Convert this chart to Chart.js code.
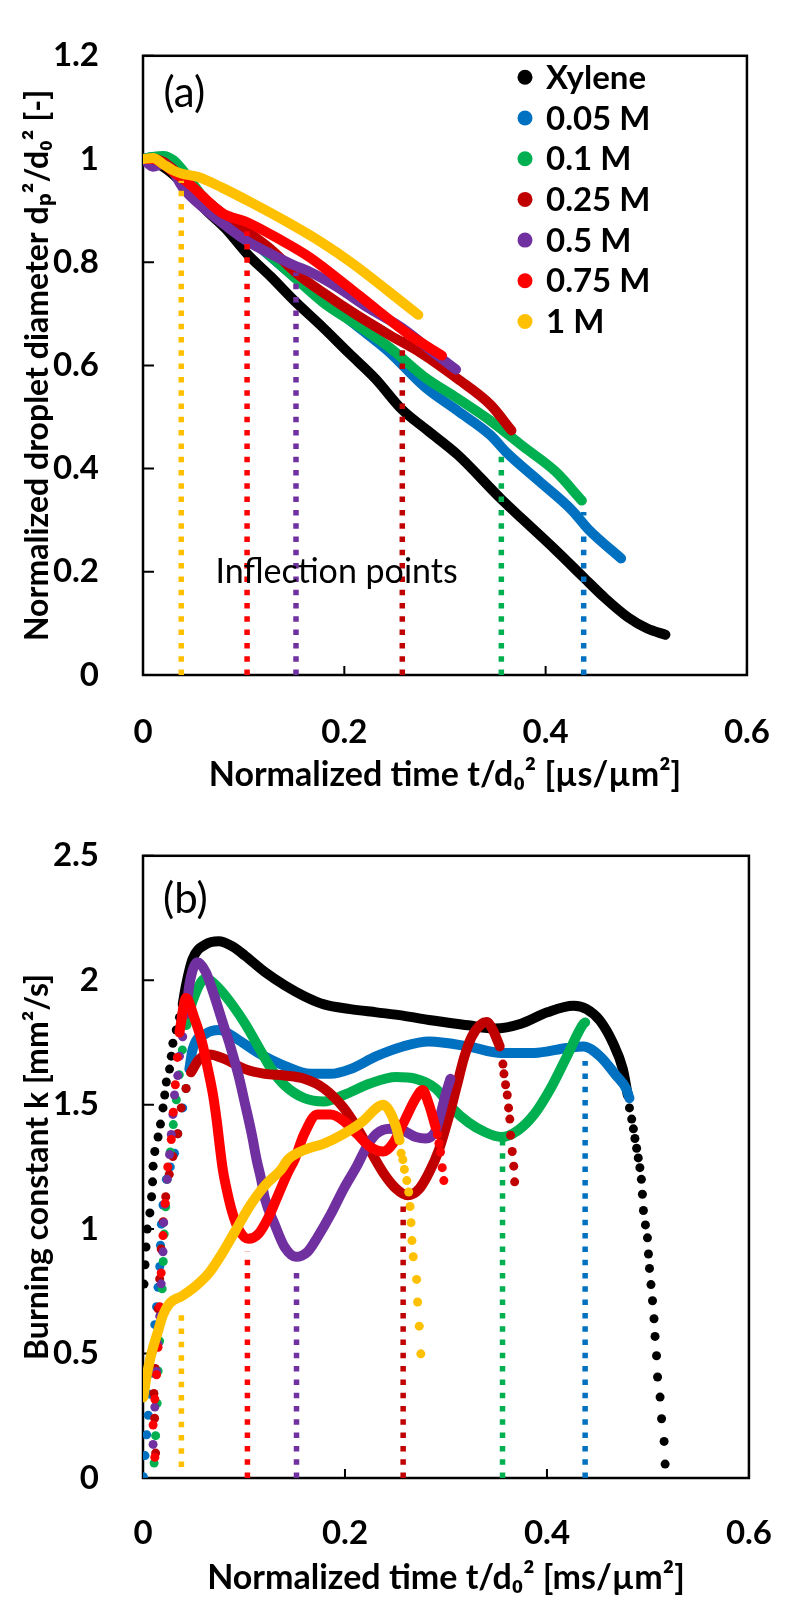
<!DOCTYPE html>
<html>
<head>
<meta charset="utf-8">
<script src="https://cdn.jsdelivr.net/npm/chart.js@4.4.1/dist/chart.umd.min.js"></script>
<style>
  body { margin: 0; background: #fff; }
  canvas { display: block; }
</style>
</head>
<body>
<canvas id="chartA" width="800" height="800"></canvas>
<canvas id="chartB" width="800" height="816"></canvas>
<script>
// series names + colours (Excel standard palette)
const seriesNames = ['Xylene', '0.05 M', '0.1 M', '0.25 M', '0.5 M', '0.75 M', '1 M'];
const seriesColors = ['#000000', '#0070C0', '#00B050', '#C00000', '#7030A0', '#FF0000', '#FFC000'];

// x of the inflection points (same for both panels), order: 1M, 0.75M, 0.5M, 0.25M, 0.1M, 0.05M
const inflX = [0.038, 0.1034, 0.152, 0.2576, 0.356, 0.4378];
const inflColors = ['#FFC000', '#FF0000', '#7030A0', '#C00000', '#00B050', '#0070C0'];
const inflTopA = [0.958, 0.86, 0.78, 0.655, 0.437, 0.316];
const inflBottomB = [0.044, 0, 0, 0, 0, 0];
const inflTopB = [0.668, 0.909, 0.85, 1.097, 1.364, 1.676];

// ---- panel (a): normalized droplet diameter ----
const xyleneA = [[0,1.0],[0.01,0.995],[0.02,0.985],[0.03,0.97],[0.038,0.955],[0.062,0.902],[0.082,0.865],[0.104,0.815],[0.127,0.772],[0.15,0.726],[0.179,0.673],[0.205,0.623],[0.231,0.574],[0.257,0.515],[0.282,0.475],[0.3125,0.427],[0.3558,0.341],[0.3776,0.301],[0.41,0.242],[0.4378,0.189],[0.459,0.149],[0.4817,0.112],[0.501,0.09],[0.519,0.078]];
const m005A = [[0,1.0],[0.01,1.004],[0.02,1.004],[0.03,0.995],[0.04,0.975],[0.06,0.922],[0.08,0.886],[0.1,0.853],[0.12,0.822],[0.15,0.772],[0.18,0.726],[0.212,0.677],[0.244,0.627],[0.28,0.558],[0.3125,0.512],[0.345,0.465],[0.3613,0.431],[0.394,0.375],[0.4263,0.319],[0.4426,0.282],[0.475,0.226]];
const m01A = [[0,1.0],[0.01,1.004],[0.02,1.006],[0.03,0.998],[0.04,0.977],[0.06,0.926],[0.08,0.89],[0.1,0.857],[0.114,0.834],[0.153,0.766],[0.179,0.722],[0.212,0.679],[0.244,0.636],[0.28,0.577],[0.3125,0.536],[0.345,0.493],[0.3776,0.443],[0.41,0.394],[0.436,0.338]];
const m025A = [[0,1.0],[0.01,1.0],[0.02,0.995],[0.03,0.98],[0.04,0.96],[0.06,0.925],[0.08,0.893],[0.104,0.859],[0.127,0.825],[0.153,0.778],[0.179,0.741],[0.212,0.698],[0.244,0.66],[0.277,0.623],[0.3125,0.574],[0.345,0.524],[0.366,0.474]];
const m05A = [[0,1.0],[0.01,0.985],[0.02,0.99],[0.03,0.975],[0.039,0.946],[0.062,0.902],[0.082,0.871],[0.104,0.84],[0.127,0.816],[0.15,0.794],[0.166,0.781],[0.192,0.753],[0.225,0.71],[0.257,0.673],[0.29,0.623],[0.311,0.592]];
const m075A = [[0,1.0],[0.01,1.0],[0.02,0.99],[0.03,0.975],[0.046,0.952],[0.078,0.896],[0.104,0.877],[0.134,0.846],[0.166,0.809],[0.199,0.76],[0.231,0.71],[0.264,0.66],[0.297,0.619]];
const m1A = [[0,1.0],[0.01,1.002],[0.02,0.99],[0.03,0.978],[0.038,0.972],[0.055,0.965],[0.078,0.945],[0.111,0.912],[0.143,0.878],[0.176,0.84],[0.2085,0.797],[0.241,0.748],[0.2735,0.698]];

// ---- panel (b): burning constant k ----
// each series: sparse rise dots, dense curve, sparse fall dots
const xyleneRise = [[0.001,0.779],[0.002,0.857],[0.003,0.928],[0.0042,1.0],[0.0068,1.065],[0.0085,1.13],[0.0095,1.19],[0.01,1.253],[0.0117,1.312],[0.0149,1.37],[0.0173,1.422],[0.0198,1.487],[0.0215,1.539],[0.0231,1.591],[0.0263,1.643],[0.028,1.695],[0.0296,1.747],[0.0329,1.8],[0.0361,1.851]];
const xyleneK = [[0.0393,1.903],[0.0426,1.98],[0.0491,2.085],[0.0621,2.144],[0.0751,2.157],[0.0881,2.137],[0.1012,2.098],[0.1207,2.033],[0.1402,1.98],[0.1597,1.936],[0.1792,1.903],[0.2052,1.884],[0.2312,1.871],[0.2573,1.858],[0.2832,1.84],[0.3222,1.819],[0.3483,1.806],[0.3743,1.825],[0.4003,1.871],[0.4263,1.897],[0.4393,1.884],[0.4524,1.838],[0.4654,1.747],[0.4751,1.643],[0.48,1.539]];
const xyleneFall = [[0.4817,1.487],[0.4839,1.442],[0.4856,1.403],[0.4871,1.364],[0.4888,1.325],[0.4904,1.286],[0.492,1.247],[0.4935,1.2],[0.4945,1.14],[0.4955,1.075],[0.4975,1.017],[0.4995,0.965],[0.5005,0.9],[0.5015,0.842],[0.503,0.777],[0.5045,0.712],[0.506,0.64],[0.507,0.569],[0.5085,0.491],[0.5095,0.406],[0.512,0.325],[0.5135,0.238],[0.516,0.147],[0.517,0.056]];

const m005Rise = [[0.0003,0.005],[0.002,0.09],[0.0036,0.174],[0.0052,0.252],[0.0068,0.337],[0.0085,0.421],[0.01,0.512],[0.0117,0.616],[0.0134,0.688],[0.0149,0.766],[0.0166,0.85],[0.0173,0.935],[0.0182,1.02],[0.0198,1.097],[0.0231,1.2],[0.027,1.25],[0.0312,1.305],[0.0344,1.383],[0.0393,1.487],[0.0426,1.565]];
const m005K = [[0.0459,1.643],[0.0491,1.721],[0.0621,1.785],[0.0751,1.8],[0.0946,1.76],[0.1141,1.708],[0.1402,1.656],[0.1661,1.624],[0.1857,1.624],[0.2052,1.643],[0.2312,1.695],[0.2573,1.734],[0.2832,1.754],[0.3222,1.734],[0.3548,1.708],[0.3873,1.708],[0.4198,1.728],[0.4361,1.734],[0.4524,1.695],[0.4686,1.617],[0.4783,1.565],[0.4817,1.526]];

const m01Rise = [[0.011,0.06],[0.0125,0.17],[0.014,0.3],[0.015,0.43],[0.0165,0.55],[0.018,0.66],[0.019,0.76],[0.02,0.87],[0.021,0.98],[0.0225,1.09],[0.024,1.2],[0.027,1.31],[0.03,1.42],[0.033,1.52],[0.036,1.62],[0.039,1.72]];
const m01K = [[0.043,1.82],[0.0491,1.916],[0.0621,2.007],[0.0751,1.968],[0.0881,1.903],[0.1012,1.825],[0.1141,1.734],[0.1271,1.643],[0.1402,1.578],[0.1597,1.526],[0.1792,1.513],[0.1987,1.539],[0.2247,1.585],[0.2507,1.611],[0.2702,1.604],[0.2898,1.565],[0.306,1.487],[0.3222,1.429],[0.3385,1.39],[0.3548,1.37],[0.371,1.396],[0.3873,1.461],[0.4036,1.565],[0.4198,1.695],[0.4361,1.825],[0.4378,1.83]];

const m025Rise = [[0.0125,0.1],[0.0115,0.24],[0.0108,0.34],[0.012,0.44],[0.0135,0.56],[0.015,0.68],[0.0165,0.8],[0.018,0.92],[0.02,1.03],[0.0225,1.13],[0.026,1.22],[0.0296,1.292],[0.0344,1.383],[0.0378,1.487],[0.0426,1.565]];
const m025K = [[0.0475,1.63],[0.0556,1.682],[0.0654,1.702],[0.0817,1.682],[0.1012,1.643],[0.1207,1.624],[0.1402,1.617],[0.1597,1.604],[0.1792,1.565],[0.1987,1.487],[0.2117,1.409],[0.2247,1.318],[0.2378,1.227],[0.2507,1.162],[0.2621,1.136],[0.2735,1.162],[0.2832,1.227],[0.293,1.318],[0.3027,1.45],[0.311,1.58],[0.318,1.69],[0.3255,1.773],[0.3353,1.825],[0.3402,1.832],[0.3466,1.799],[0.3532,1.734]];
const m025Fall = [[0.3564,1.663],[0.3574,1.624],[0.359,1.58],[0.3607,1.539],[0.362,1.487],[0.3632,1.442],[0.364,1.377],[0.3656,1.312],[0.3671,1.253],[0.368,1.19]];

const m05Rise = [[0.01,0.135],[0.0117,0.285],[0.0134,0.428],[0.0149,0.538],[0.0166,0.65],[0.018,0.78],[0.0198,0.909],[0.0205,1.026],[0.0215,1.1],[0.024,1.2],[0.0263,1.3],[0.028,1.38],[0.0296,1.461],[0.0312,1.539],[0.0344,1.617],[0.0361,1.695],[0.0393,1.773]];
const m05K = [[0.0426,1.864],[0.0459,1.981],[0.054,2.072],[0.0621,2.033],[0.0702,1.942],[0.0783,1.838],[0.0865,1.734],[0.0946,1.617],[0.1012,1.5],[0.1076,1.383],[0.1125,1.279],[0.117,1.2],[0.1207,1.123],[0.1304,1.019],[0.1402,0.928],[0.1515,0.889],[0.1629,0.909],[0.1727,0.967],[0.1857,1.058],[0.1987,1.162],[0.2117,1.253],[0.2215,1.331],[0.2312,1.383],[0.2442,1.403],[0.2573,1.396],[0.2702,1.37],[0.28,1.364],[0.2898,1.396],[0.2946,1.461],[0.2995,1.539],[0.3044,1.604]];

const m075Rise = [[0.0117,0.083],[0.01,0.213],[0.0117,0.317],[0.0134,0.415],[0.0149,0.525],[0.0158,0.61],[0.0166,0.688],[0.018,0.824],[0.0198,0.974],[0.022,1.104],[0.0245,1.25],[0.028,1.36],[0.03,1.47],[0.032,1.58],[0.034,1.69]];
const m075K = [[0.0361,1.79],[0.0426,1.929],[0.0507,1.85],[0.0585,1.75],[0.0644,1.64],[0.0693,1.54],[0.0732,1.43],[0.0761,1.33],[0.079,1.24],[0.082,1.175],[0.0881,1.071],[0.0946,1.0],[0.1044,0.961],[0.1141,0.98],[0.1239,1.045],[0.1337,1.136],[0.1434,1.227],[0.15,1.279],[0.1597,1.383],[0.1727,1.461],[0.1857,1.461],[0.1987,1.435],[0.2117,1.383],[0.2247,1.331],[0.2378,1.312],[0.2475,1.344],[0.2573,1.422],[0.2702,1.526],[0.2768,1.559],[0.2832,1.5],[0.2898,1.409]];
const m075Fall = [[0.2914,1.38],[0.293,1.344],[0.2946,1.31],[0.2963,1.247],[0.2979,1.195]];

const m1K = [[0.0003,0.324],[0.002,0.369],[0.0036,0.41],[0.0068,0.473],[0.01,0.525],[0.0149,0.59],[0.0198,0.655],[0.0263,0.701],[0.0393,0.733],[0.0524,0.772],[0.0654,0.824],[0.0783,0.902],[0.0914,0.993],[0.1044,1.084],[0.1207,1.175],[0.1369,1.24],[0.1434,1.279],[0.1597,1.318],[0.1792,1.344],[0.1987,1.383],[0.2182,1.435],[0.2312,1.487],[0.2378,1.5],[0.2442,1.474],[0.2507,1.409],[0.254,1.357]];
const m1Fall = [[0.2556,1.305],[0.2573,1.279],[0.2588,1.24],[0.2612,1.195],[0.2631,1.149],[0.2644,1.091],[0.2654,1.026],[0.2663,0.954],[0.2676,0.889],[0.2709,0.798],[0.2719,0.707],[0.2735,0.61],[0.2751,0.499]];

const FONT = 'Lato, "Open Sans", sans-serif';
Chart.defaults.font.family = FONT;
Chart.defaults.color = '#000';

const pts = arr => arr.map(([x, y]) => ({ x, y }));

// dense part of a series: thick line through the read points
function curve(arr, color, order) {
    return {
        data: pts(arr), showLine: true, order: order,
        borderColor: color, backgroundColor: color, borderWidth: 10,
        borderCapStyle: 'round', borderJoinStyle: 'round',
        cubicInterpolationMode: 'monotone', pointRadius: 0
    };
}

// sparse part: separate dots
function dots(arr, color, order) {
    return {
        data: pts(arr), showLine: false, order: order,
        backgroundColor: color, borderColor: color,
        pointRadius: 4.5, pointBorderWidth: 0
    };
}

// dotted vertical line at an inflection point
function marker(x, y0, y1, color) {
    return {
        data: [{ x: x, y: y0 }, { x: x, y: y1 }], showLine: true, order: 0,
        borderColor: color, borderWidth: 5.5, borderDash: [5.5, 7.8], borderCapStyle: 'butt',
        pointRadius: 0
    };
}

// black frame + inward tick marks
const framePlugin = {
    id: 'frame',
    beforeDatasetsDraw(chart) {
        const { ctx, chartArea: a } = chart;
        const xs = chart.scales.x, ys = chart.scales.y;
        ctx.save();
        ctx.strokeStyle = '#000';
        ctx.lineWidth = 2.5;
        ctx.strokeRect(a.left, a.top, a.right - a.left, a.bottom - a.top);
        ctx.beginPath();
        ctx.lineWidth = 2;
        xs.ticks.forEach(t => {
            const px = xs.getPixelForValue(t.value);
            ctx.moveTo(px, a.bottom);
            ctx.lineTo(px, a.bottom - 9);
        });
        ys.ticks.forEach(t => {
            const py = ys.getPixelForValue(t.value);
            ctx.moveTo(a.left, py);
            ctx.lineTo(a.left + 11, py);
        });
        ctx.stroke();
        ctx.restore();
    }
};

// panel letter and free text, placed in data coordinates
const notesPlugin = {
    id: 'notes',
    afterDatasetsDraw(chart, args, opts) {
        const ctx = chart.ctx;
        ctx.save();
        (opts.items || []).forEach(n => {
            ctx.font = n.font;
            ctx.fillStyle = '#000';
            ctx.textAlign = n.align || 'center';
            ctx.textBaseline = 'middle';
            ctx.fillText(n.text, chart.scales.x.getPixelForValue(n.x), chart.scales.y.getPixelForValue(n.y));
        });
        ctx.restore();
    }
};

// legend in the top right of panel (a)
const legendPlugin = {
    id: 'sideLegend',
    afterDatasetsDraw(chart, args, opts) {
        if (!opts.names) return;
        const { ctx, chartArea: a } = chart;
        ctx.save();
        ctx.font = 'bold 33px ' + FONT;
        ctx.textAlign = 'left';
        ctx.textBaseline = 'middle';
        opts.names.forEach((name, i) => {
            const y = a.top + opts.top + i * opts.step;
            ctx.fillStyle = opts.colors[i];
            ctx.beginPath();
            ctx.arc(a.left + opts.left, y, 7.5, 0, Math.PI * 2);
            ctx.fill();
            ctx.fillStyle = '#000';
            ctx.fillText(name, a.left + opts.left + 21, y + 1);
        });
        ctx.restore();
    }
};

const tickLabel = v => +v.toFixed(2);

function axes(yMax, yStep, xTitle, yTitle, xHeight, xPad, xTitlePad) {
    return {
        x: {
            type: 'linear', min: 0, max: 0.6,
            grid: { display: false }, border: { display: false },
            ticks: { stepSize: 0.2, padding: xPad, font: { size: 33, weight: 'bold' }, color: '#000', callback: tickLabel },
            title: { display: true, text: xTitle, font: { size: 34, weight: 'bold' }, color: '#000', padding: { top: 0, bottom: xTitlePad } },
            afterFit: s => { s.height = xHeight; }
        },
        y: {
            type: 'linear', min: 0, max: yMax,
            grid: { display: false }, border: { display: false },
            ticks: { stepSize: yStep, padding: 36, font: { size: 33, weight: 'bold' }, color: '#000', callback: tickLabel },
            title: { display: true, text: yTitle, font: { size: 32, weight: 'bold' }, color: '#000', padding: { top: 18, bottom: 0 } },
            afterFit: s => { s.width = 143; }
        }
    };
}

// ---- chart (a) ----
const seriesA = [xyleneA, m005A, m01A, m025A, m05A, m075A, m1A];
const dsA = seriesA.map((s, i) => curve(s, seriesColors[i], 7 - i));
inflX.forEach((x, i) => dsA.push(marker(x, 0, inflTopA[i], inflColors[i])));

new Chart(document.getElementById('chartA'), {
    type: 'scatter',
    data: { datasets: dsA },
    options: {
        responsive: false, animation: false,
        layout: { padding: { left: 0, top: 29, right: 42, bottom: 0 } },
        scales: axes(1.2, 0.2, 'Normalized time t/d\u2080\u00B2 [\u00B5s/\u00B5m\u00B2]',
            'Normalized droplet diameter d\u209A\u00B2/d\u2080\u00B2 [-]', 125, 30, 5),
        plugins: {
            legend: { display: false }, tooltip: { enabled: false },
            notes: { items: [
                { text: '(a)', x: 0.041, y: 1.127, font: '42px ' + FONT },
                { text: 'Inflection points', x: 0.072, y: 0.2, align: 'left', font: '34px ' + FONT }
            ] },
            sideLegend: { names: seriesNames, colors: seriesColors, left: 382, top: 21.5, step: 40.7 }
        }
    },
    plugins: [framePlugin, notesPlugin, legendPlugin]
});

// ---- chart (b) ----
const dsB = [
    dots(xyleneRise, seriesColors[0], 7), curve(xyleneK, seriesColors[0], 7), dots(xyleneFall, seriesColors[0], 7),
    dots(m005Rise, seriesColors[1], 6), curve(m005K, seriesColors[1], 6),
    dots(m01Rise, seriesColors[2], 5), curve(m01K, seriesColors[2], 5),
    dots(m025Rise, seriesColors[3], 4), curve(m025K, seriesColors[3], 4), dots(m025Fall, seriesColors[3], 4),
    dots(m05Rise, seriesColors[4], 3), curve(m05K, seriesColors[4], 3),
    dots(m075Rise, seriesColors[5], 2), curve(m075K, seriesColors[5], 2), dots(m075Fall, seriesColors[5], 2),
    curve(m1K, seriesColors[6], 1), dots(m1Fall, seriesColors[6], 1)
];
inflX.forEach((x, i) => dsB.push(marker(x, inflBottomB[i], inflTopB[i], inflColors[i])));

new Chart(document.getElementById('chartB'), {
    type: 'scatter',
    data: { datasets: dsB },
    options: {
        responsive: false, animation: false,
        layout: { padding: { left: 0, top: 37, right: 41, bottom: 0 } },
        scales: axes(2.5, 0.5, 'Normalized time t/d\u2080\u00B2 [ms/\u00B5m\u00B2]',
            'Burning constant k [mm\u00B2/s]', 138, 28, 18),
        plugins: {
            legend: { display: false }, tooltip: { enabled: false },
            notes: { items: [
                { text: '(b)', x: 0.042, y: 2.325, font: '42px ' + FONT }
            ] }
        }
    },
    plugins: [framePlugin, notesPlugin]
});
</script>
</body>
</html>
